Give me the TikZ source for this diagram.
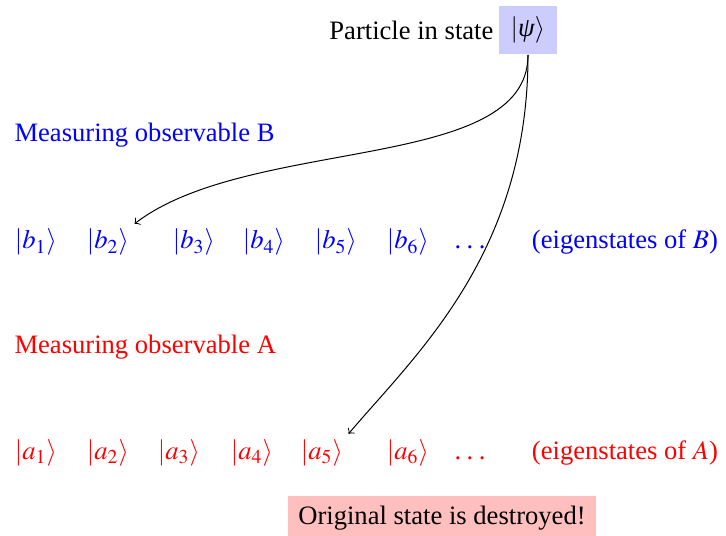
\documentclass[tikz,border=0pt]{standalone}
\usepackage{mathptmx}
\usepackage{fontspec}
\setmainfont{Liberation Serif}
\usetikzlibrary{positioning}
\newcommand{\lowdots}{.\kern2.2pt.\kern2.2pt.}
\tikzset{
  txt/.style={inner sep=2pt, font=\fontsize{10.6}{13}\selectfont},
  ketb/.style={txt, text=blue, anchor=base},
  keta/.style={txt, text=red, anchor=base},
  psibox/.style={txt, fill=blue!20, inner sep=4.5pt},
  warnbox/.style={txt, fill=red!25, inner sep=4pt},
  measarrow/.style={->, >=to}
}

\begin{document}
\begin{tikzpicture}[x=0.014cm, y=-0.014cm]
  \useasboundingbox (0,0) rectangle (726,536);

  % initial state
  \node[psibox] (psi) at (528,30) {$|\mbox{\textit{ψ}}\rangle$};
  \node[txt, left=0pt of psi] (particle) {Particle in state};

  % observable B
  \node[txt, text=blue, anchor=west] (measB) at (9,135) {Measuring observable B};
  \foreach \i/\x in {1/36, 2/108, 3/194, 4/264, 5/336, 6/408}
    \node[ketb] (b\i) at (\x,249) {$|b_\i\rangle$};
  \node[ketb] (bdots) at (470,249) {\lowdots};
  \node[ketb] (eigB) at (625,249) {(eigenstates of $B$)};

  % observable A
  \node[txt, text=red, anchor=west] (measA) at (9,347) {Measuring observable A};
  \foreach \i/\x in {1/36, 2/108, 3/179, 4/252, 5/322, 6/408}
    \node[keta] (a\i) at (\x,459) {$|a_\i\rangle$};
  \node[keta] (adots) at (470,459) {\lowdots};
  \node[keta] (eigA) at (625,459) {(eigenstates of $A$)};

  \node[warnbox] (destroyed) at (442,518) {Original state is destroyed!};

  % collapse
  \draw[measarrow] (psi.south) .. controls +(0,118) and +(115,-88) .. (b2.north east);
  \draw[measarrow] (psi.south) .. controls +(0,198) and +(68,-80) .. (a5.north east);
\end{tikzpicture}
\end{document}
